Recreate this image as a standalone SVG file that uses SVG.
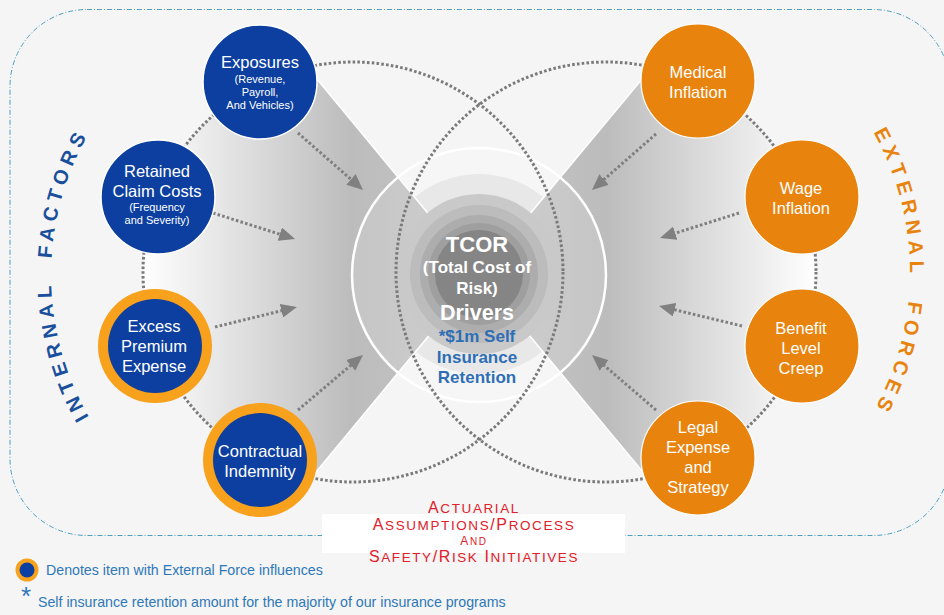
<svg xmlns="http://www.w3.org/2000/svg" width="944" height="615" viewBox="0 0 944 615">
<defs>
<style>
.t{font-family:"Liberation Sans",Arial,sans-serif}
.nt{font-family:"Liberation Sans",Arial,sans-serif;fill:#fff;font-size:16.5px;text-anchor:middle}
.st{font-family:"Liberation Sans",Arial,sans-serif;fill:#fff;font-size:11px;text-anchor:middle}
.blue{fill:#0c3f9f;stroke:#fff;stroke-width:1.5}
.orange{fill:#e8830e;stroke:#fff;stroke-width:1.2}
.ring{fill:#f7a11c}
.dot{fill:none;stroke:#7a7a7a;stroke-width:3;stroke-dasharray:2.6 2.2}
.arr{fill:none;stroke:#7f7f7f;stroke-width:3;stroke-dasharray:2.6 2.2;marker-end:url(#ah)}
.edge{stroke:#fff;stroke-width:1.6;fill:none}
.ct{font-family:"Liberation Sans",Arial,sans-serif;font-weight:bold;text-anchor:middle}
.red{font-family:"Liberation Sans",Arial,sans-serif;fill:#e0202a;text-anchor:middle;letter-spacing:1.6px}
.leg{font-family:"Liberation Sans",Arial,sans-serif;fill:#2e78b8;font-size:14.2px}
.ast{font-family:"Liberation Sans",Arial,sans-serif;fill:#2e78b8;font-size:26px}
</style>
<marker id="ah" viewBox="0 0 16 14" markerWidth="16" markerHeight="14" refX="4" refY="7" orient="auto" markerUnits="userSpaceOnUse">
<path d="M0,0 L16,7 L0,14 z" fill="#808080"/>
</marker>
<linearGradient id="gl" gradientUnits="userSpaceOnUse" x1="143" y1="0" x2="479" y2="0">
<stop offset="0" stop-color="#ffffff"/>
<stop offset="0.62" stop-color="#bcbcbc"/>
<stop offset="1" stop-color="#c6c6c6"/>
</linearGradient>
<linearGradient id="gr" gradientUnits="userSpaceOnUse" x1="816" y1="0" x2="479" y2="0">
<stop offset="0" stop-color="#ffffff"/>
<stop offset="0.62" stop-color="#bcbcbc"/>
<stop offset="1" stop-color="#c6c6c6"/>
</linearGradient>
<clipPath id="cl"><circle cx="353" cy="272" r="210"/></clipPath>
<clipPath id="cr"><circle cx="606" cy="272" r="210"/></clipPath>
<path id="arcL" d="M193.5,521.8 A285,285 0 0,1 193.5,28.2"/>
<path id="arcR" d="M767.5,25.2 A285,285 0 0,1 767.5,518.8"/>
</defs>

<rect x="0" y="0" width="944" height="615" fill="#f5f5f5"/>
<rect x="10" y="9.5" width="940" height="526" rx="77" ry="77" fill="none" stroke="#4d9fc4" stroke-width="1" stroke-dasharray="5 2 1 2"/>

<g id="center-back">
<circle cx="479" cy="274" r="100" fill="#e4e4e4"/>
<polygon points="479,275 249.5,-2 100,-2 100,552 249.5,552" fill="url(#gl)" clip-path="url(#cl)"/>
<polygon points="479,275 708.5,-2 860,-2 860,552 708.5,552" fill="url(#gr)" clip-path="url(#cr)"/>
<path class="edge" d="M307,67 L479,275 L307,483 M652,67 L479,275 L652,483"/>
<circle cx="479" cy="275" r="127" fill="#ffffff" fill-opacity="0.15" stroke="#fff" stroke-width="2.5"/>
<circle cx="479" cy="274" r="80" fill="#c9c9c9"/>
<circle cx="479" cy="274" r="69" fill="#bcbcbc"/>
<circle cx="479" cy="274" r="59" fill="#adadad"/>
<circle cx="479" cy="274" r="51" fill="#9f9f9f"/>
<circle cx="479" cy="274" r="44" fill="#858585"/>
</g>

<g id="connectors">
<circle class="dot" cx="353" cy="272" r="210"/>
<circle class="dot" cx="606" cy="272" r="210"/>
<line class="arr" x1="298" y1="133" x2="354" y2="182"/>
<line class="arr" x1="213" y1="213" x2="283.6" y2="235.4"/>
<line class="arr" x1="215" y1="327" x2="285.3" y2="309.8"/>
<line class="arr" x1="298" y1="410" x2="353.8" y2="362.8"/>
<line class="arr" x1="656" y1="134" x2="601" y2="182.1"/>
<line class="arr" x1="739" y1="213" x2="671.4" y2="234.4"/>
<line class="arr" x1="742" y1="326" x2="670.7" y2="308.8"/>
<line class="arr" x1="656" y1="410" x2="601.1" y2="362.8"/>
</g>

<g id="node-tcor">
<text class="ct" x="477" y="252" font-size="22" fill="#fff">TCOR</text>
<text class="ct" x="477" y="273" font-size="17" fill="#fff">(Total Cost of</text>
<text class="ct" x="477" y="294" font-size="17" fill="#fff">Risk)</text>
<text class="ct" x="477" y="320" font-size="21.5" fill="#fff">Drivers</text>
<text class="ct" x="477" y="342" font-size="17" fill="#2e6eb5">*$1m Self</text>
<text class="ct" x="477" y="363" font-size="17" fill="#2e6eb5">Insurance</text>
<text class="ct" x="477" y="383" font-size="17" fill="#2e6eb5">Retention</text>
</g>

<g id="node-exposures">
<circle class="blue" cx="260" cy="82" r="57"/>
<text class="nt" x="260" y="68">Exposures</text>
<text class="st" x="260" y="83">(Revenue,</text>
<text class="st" x="260" y="96">Payroll,</text>
<text class="st" x="260" y="109">And Vehicles)</text>
</g>

<g id="node-retained">
<circle class="blue" cx="158" cy="197" r="57"/>
<text class="nt" x="157" y="177">Retained</text>
<text class="nt" x="157" y="197">Claim Costs</text>
<text class="st" x="157" y="211">(Frequency</text>
<text class="st" x="157" y="224">and Severity)</text>
</g>

<g id="node-excess">
<circle class="ring" cx="155" cy="346" r="57"/>
<circle fill="#0c3f9f" cx="155" cy="346" r="47"/>
<text class="nt" x="154" y="332">Excess</text>
<text class="nt" x="154" y="352">Premium</text>
<text class="nt" x="154" y="372">Expense</text>
</g>

<g id="node-contractual">
<circle class="ring" cx="260" cy="460" r="57"/>
<circle fill="#0c3f9f" cx="260" cy="460" r="47"/>
<text class="nt" x="260" y="457">Contractual</text>
<text class="nt" x="260" y="477">Indemnity</text>
</g>

<g id="node-medical">
<circle class="orange" cx="698" cy="81" r="57"/>
<text class="nt" x="698" y="78">Medical</text>
<text class="nt" x="698" y="98">Inflation</text>
</g>

<g id="node-wage">
<circle class="orange" cx="802" cy="197" r="57"/>
<text class="nt" x="801" y="194">Wage</text>
<text class="nt" x="801" y="214">Inflation</text>
</g>

<g id="node-benefit">
<circle class="orange" cx="802" cy="346" r="57"/>
<text class="nt" x="801" y="334">Benefit</text>
<text class="nt" x="801" y="354">Level</text>
<text class="nt" x="801" y="374">Creep</text>
</g>

<g id="node-legal">
<circle class="orange" cx="698" cy="458" r="57"/>
<text class="nt" x="698" y="433">Legal</text>
<text class="nt" x="698" y="453">Expense</text>
<text class="nt" x="698" y="473">and</text>
<text class="nt" x="698" y="493">Strategy</text>
</g>

<g id="label-internal">
<text class="t" font-size="20" font-weight="bold" fill="#1a4f9c" letter-spacing="5.3" text-anchor="middle"><textPath href="#arcL" startOffset="50%">INTERNAL&#160; FACTORS</textPath></text>
</g>
<g id="label-external">
<text class="t" font-size="20" font-weight="bold" fill="#e8830e" letter-spacing="5.6" text-anchor="middle"><textPath href="#arcR" startOffset="50%">EXTERNAL&#160; FORCES</textPath></text>
</g>

<g id="label-actuarial">
<rect x="322" y="514" width="303" height="39" fill="#fff"/>
<text class="red" x="474" y="513"><tspan font-size="16">A</tspan><tspan font-size="13.5">CTUARIAL</tspan></text>
<text class="red" x="474" y="530"><tspan font-size="16">A</tspan><tspan font-size="13.5">SSUMPTIONS</tspan><tspan font-size="16">/P</tspan><tspan font-size="13.5">ROCESS</tspan></text>
<text class="red" x="474" y="545" letter-spacing="1"><tspan font-size="12">A</tspan><tspan font-size="10">ND</tspan></text>
<text class="red" x="474" y="562"><tspan font-size="16">S</tspan><tspan font-size="13.5">AFETY</tspan><tspan font-size="16">/R</tspan><tspan font-size="13.5">ISK</tspan><tspan font-size="16"> I</tspan><tspan font-size="13.5">NITIATIVES</tspan></text>
</g>

<g id="legend">
<circle cx="27" cy="570" r="11.5" fill="#f7a11c"/>
<circle cx="27" cy="570" r="7.5" fill="#0c3f9f"/>
<text class="leg" x="46" y="575">Denotes item with External Force influences</text>
<text class="ast" x="21" y="605">*</text>
<text class="leg" x="38" y="607">Self insurance retention amount for the majority of our insurance programs</text>
</g>
</svg>
